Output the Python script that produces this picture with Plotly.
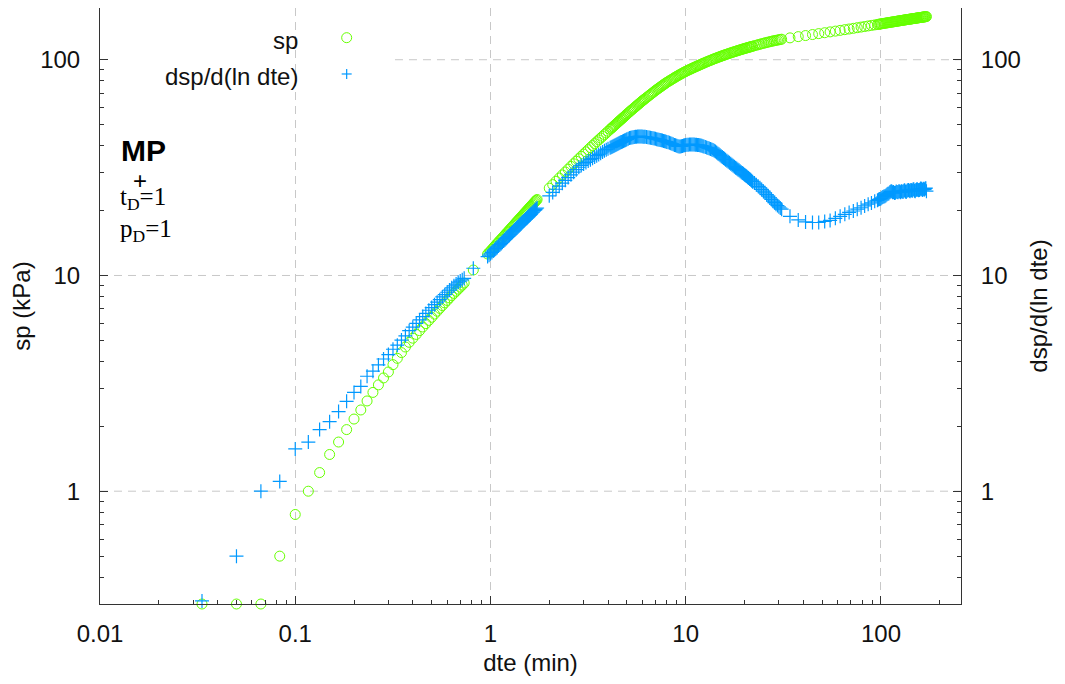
import math
import plotly.graph_objects as go

# ---------------- data ----------------
dte_a = [0.0333, 0.05, 0.0667, 0.0833, 0.1, 0.1167, 0.1333, 0.15, 0.1667, 0.1833,
         0.2, 0.2167, 0.2333, 0.25, 0.2667, 0.2833, 0.3, 0.3167, 0.3333, 0.35,
         0.3667, 0.3833, 0.4, 0.4167, 0.4333, 0.45, 0.4667, 0.4833, 0.5, 0.5167,
         0.5333, 0.55, 0.5667, 0.5833, 0.6, 0.6167, 0.6333, 0.65, 0.6667, 0.6833,
         0.7, 0.7167, 0.7333, 0.8167]
sp_a = [0.3, 0.3, 0.3, 0.5, 0.78, 1.0, 1.22, 1.48, 1.69, 1.93,
        2.16, 2.38, 2.62, 2.87, 3.11, 3.35, 3.57, 3.86, 4.13, 4.39,
        4.66, 4.9, 5.12, 5.33, 5.55, 5.77, 5.98, 6.19, 6.4, 6.62,
        6.83, 7.04, 7.25, 7.46, 7.66, 7.87, 8.07, 8.26, 8.45, 8.64,
        8.83, 9.02, 9.22, 10.6]
dsp_a = [0.31, 0.5, 1.0, 1.11, 1.57, 1.69, 1.93, 2.10, 2.34, 2.61,
         2.87, 3.06, 3.41, 3.6, 3.85, 4.1, 4.3, 4.55, 4.75, 5.02,
         5.25, 5.55, 5.76, 6.0, 6.22, 6.45, 6.67, 6.9, 7.1, 7.32,
         7.52, 7.72, 7.95, 8.15, 8.36, 8.56, 8.76, 8.95, 9.12, 9.3,
         9.42, 9.55, 9.7, 10.8]

dte_b1 = [0.9667, 0.9833, 1.0, 1.0167, 1.0333, 1.05, 1.0667, 1.0833, 1.1, 1.1167,
          1.1333, 1.15, 1.1667, 1.1833, 1.2, 1.2167, 1.2333, 1.25, 1.2667, 1.2833,
          1.3, 1.3167, 1.3333, 1.35, 1.3667, 1.3833, 1.4, 1.4167, 1.4333, 1.45,
          1.4667, 1.4833, 1.5, 1.5167, 1.5333, 1.55, 1.5667, 1.5833, 1.6, 1.6167,
          1.6333, 1.65, 1.6667, 1.6833, 1.7, 1.7167, 1.7333]
sp_b1 = [12.57, 12.77, 12.97, 13.2, 13.43, 13.65, 13.87, 14.09, 14.3, 14.52,
         14.73, 14.95, 15.17, 15.39, 15.6, 15.82, 16.03, 16.25, 16.47, 16.69,
         16.9, 17.12, 17.33, 17.55, 17.77, 17.99, 18.2, 18.42, 18.63, 18.85,
         19.07, 19.29, 19.5, 19.72, 19.93, 20.15, 20.37, 20.59, 20.8, 21.02,
         21.23, 21.45, 21.67, 21.89, 22.1, 22.3, 22.5]
dsp_b1 = [12.23, 12.42, 12.6, 12.79, 12.97, 13.16, 13.34, 13.53, 13.72, 13.9,
          14.08, 14.27, 14.45, 14.64, 14.82, 15.0, 15.18, 15.37, 15.55, 15.73,
          15.91, 16.1, 16.28, 16.46, 16.64, 16.82, 17.0, 17.18, 17.36, 17.54,
          17.72, 17.9, 18.08, 18.26, 18.43, 18.61, 18.79, 18.97, 19.14, 19.32,
          19.5, 19.68, 19.85, 20.03, 20.2, 20.38, 20.55]

dte_b2 = [2.0, 2.0833, 2.1667, 2.25, 2.3333, 2.4167, 2.5, 2.5833, 2.6667, 2.75,
          2.8333, 2.9167, 3.0, 3.0833, 3.1667, 3.25, 3.3333, 3.4167, 3.5, 3.5833,
          3.6667, 3.75, 3.8333, 3.9167, 4.0]
sp_b2 = [25.4, 26.37, 27.34, 28.29, 29.24, 30.17, 31.1, 32.03, 32.94, 33.85,
         34.75, 35.64, 36.53, 37.41, 38.28, 39.14, 39.99, 40.84, 41.68, 42.51,
         43.33, 44.15, 44.96, 45.77, 46.6]
dsp_b2 = [23.4, 24.25, 25.1, 25.94, 26.78, 27.61, 28.44, 29.27, 30.1, 30.92,
          31.74, 32.36, 32.89, 33.4, 33.91, 34.42, 34.92, 35.41, 35.9, 36.39,
          36.87, 37.35, 37.82, 38.29, 38.65]

dte_c = [4.1, 4.15, 4.2, 4.25, 4.3, 4.35, 4.4, 4.45, 4.5, 4.55,
         4.6, 4.65, 4.7, 4.75, 4.8, 4.85, 4.9, 4.95, 5.0, 5.075,
         5.15, 5.225, 5.3, 5.375, 5.45, 5.525, 5.6, 5.675, 5.75, 5.825,
         5.9, 5.975, 6.05, 6.125, 6.2, 6.3, 6.4, 6.5, 6.6, 6.7,
         6.8, 6.9, 7.0, 7.1, 7.2, 7.3, 7.4, 7.5, 7.6, 7.7,
         7.8, 7.9, 8.0, 8.125, 8.25, 8.375, 8.5, 8.625, 8.75, 8.875,
         9.0, 9.125, 9.25, 9.375, 9.5, 9.625, 9.75, 9.875, 10.0, 10.15,
         10.3, 10.45, 10.6, 10.75, 10.9, 11.05, 11.2, 11.35, 11.5, 11.65,
         11.8, 11.95, 12.1, 12.25, 12.4, 12.6, 12.8, 13.0, 13.2, 13.4,
         13.6, 13.8, 14.0, 14.2, 14.4, 14.6, 14.8, 15.0, 15.2, 15.4,
         15.6, 15.8, 16.0, 16.25, 16.5, 16.75, 17.0, 17.25, 17.5, 17.75,
         18.0, 18.25, 18.5, 18.75, 19.0, 19.25, 19.5, 19.75, 20.0, 20.25,
         20.5, 20.75, 21.0, 21.25, 21.5, 21.75, 22.0]
sp_c = [47.55, 48.03, 48.5, 48.98, 49.45, 49.93, 50.4, 50.87, 51.33, 51.8,
        52.26, 52.73, 53.19, 53.65, 54.1, 54.55, 55.0, 55.5, 56.0, 56.65,
        57.3, 57.95, 58.59, 59.23, 59.87, 60.51, 61.14, 61.77, 62.4, 63.04,
        63.67, 64.28, 64.88, 65.45, 66.02, 66.77, 67.52, 68.27, 69.02, 69.76,
        70.5, 71.25, 72.0, 72.67, 73.33, 73.99, 74.65, 75.31, 75.96, 76.6,
        77.24, 77.87, 78.5, 79.17, 79.84, 80.5, 81.16, 81.82, 82.47, 83.14,
        83.8, 84.38, 84.96, 85.53, 86.1, 86.66, 87.22, 87.76, 88.3, 88.87,
        89.43, 89.99, 90.54, 91.09, 91.63, 92.15, 92.66, 93.16, 93.65, 94.14,
        94.62, 95.11, 95.6, 96.07, 96.53, 97.13, 97.73, 98.29, 98.85, 99.39,
        99.93, 100.47, 101.0, 101.49, 101.97, 102.45, 102.93, 103.4, 103.86, 104.3,
        104.74, 105.17, 105.6, 106.11, 106.61, 107.11, 107.6, 108.06, 108.51, 108.96,
        109.4, 109.83, 110.26, 110.68, 111.1, 111.51, 111.91, 112.31, 112.7, 113.06,
        113.41, 113.77, 114.12, 114.47, 114.82, 115.16, 115.5]
dsp_c = [39.09, 39.31, 39.52, 39.74, 39.95, 40.16, 40.37, 40.58, 40.78, 40.99,
         41.19, 41.4, 41.6, 41.8, 41.99, 42.19, 42.39, 42.59, 42.78, 43.07,
         43.36, 43.48, 43.6, 43.7, 43.8, 43.9, 44.0, 44.05, 44.1, 44.1,
         44.1, 44.05, 44.0, 43.95, 43.9, 43.8, 43.7, 43.6, 43.5, 43.35,
         43.2, 43.1, 43.0, 42.85, 42.7, 42.6, 42.5, 42.35, 42.2, 42.05,
         41.9, 41.75, 41.6, 41.4, 41.2, 41.0, 40.8, 40.55, 40.3, 40.1,
         39.9, 39.75, 39.6, 39.65, 39.7, 39.85, 40.0, 40.15, 40.3, 40.35,
         40.4, 40.45, 40.5, 40.5, 40.5, 40.45, 40.4, 40.35, 40.3, 40.2,
         40.1, 40.0, 39.9, 39.75, 39.6, 39.4, 39.2, 39.0, 38.8, 38.6,
         38.4, 38.15, 37.9, 37.52, 37.13, 36.78, 36.42, 36.06, 35.7, 35.37,
         35.04, 34.72, 34.4, 34.02, 33.63, 33.28, 32.92, 32.59, 32.25, 31.93,
         31.6, 31.3, 31.0, 30.71, 30.41, 30.13, 29.85, 29.59, 29.32, 29.06,
         28.8, 28.55, 28.3, 28.03, 27.75, 27.48, 27.2]

dte_d1 = [22.5, 23.0, 23.5, 24.0, 24.5, 25.0, 25.5, 26.0, 26.5, 27.0,
          27.5, 28.0, 28.5, 29.0, 29.5, 30.0, 30.5, 31.0]
sp_d1 = [116.14, 116.77, 117.39, 118.0, 118.6, 119.2, 119.72, 120.23, 120.74, 121.23,
         121.73, 122.2, 122.59, 122.97, 123.35, 123.73, 124.1, 124.5]
dsp_d1 = [26.8, 26.3, 25.9, 25.5, 25.05, 24.6, 24.15, 23.7, 23.3, 22.9,
          22.5, 22.1, 21.75, 21.4, 21.1, 20.8, 20.55, 20.3]

dte_d2 = [34.2, 37.7, 41.1, 44.6, 48.0, 51.5, 54.9, 58.4, 61.8, 65.3,
          68.7, 72.2, 75.6, 79.1, 82.5, 86.0, 89.4, 92.9]
sp_d2 = [126.3, 127.97, 129.45, 130.84, 132.15, 133.41, 134.6, 135.72, 136.8, 137.85,
         138.8, 139.83, 140.77, 141.69, 142.55, 143.41, 144.23, 145.03]
dsp_d2 = [18.8, 18.1, 17.7, 17.6, 17.6, 17.8, 18.0, 18.4, 18.8, 19.2,
          19.6, 19.9, 20.3, 20.6, 21.0, 21.4, 21.7, 22.1]

dte_e = [96, 97.25, 98.5, 99.75, 101, 102.25, 103.5, 104.75, 106, 107.25,
         108.5, 109.75, 111, 112.25, 113.5, 114.75, 116, 117.25, 118.5, 119.75,
         121, 122.25, 123.5, 124.75, 126, 127.25, 128.5, 129.75, 131, 132.25,
         133.5, 134.75, 136, 137.25, 138.5, 139.75, 141, 142.25, 143.5, 144.75,
         146, 147.25, 148.5, 149.75, 151, 152.25, 153.5, 154.75, 156, 157.25,
         158.5, 159.75, 161, 162.25, 163.5, 164.75, 166, 167.25, 168.5, 169.75, 171]
sp_e = [145.73, 146.01, 146.29, 146.57, 146.84, 147.12, 147.39, 147.65, 147.91, 148.17,
        148.43, 148.69, 148.94, 149.19, 149.44, 149.69, 149.93, 150.17, 150.41, 150.64,
        150.87, 151.1, 151.34, 151.57, 151.8, 152.02, 152.24, 152.45, 152.67, 152.88,
        153.08, 153.28, 153.48, 153.68, 153.88, 154.07, 154.26, 154.45, 154.65, 154.84,
        155.02, 155.2, 155.39, 155.58, 155.77, 155.95, 156.13, 156.31, 156.49, 156.67,
        156.84, 157.02, 157.2, 157.37, 157.53, 157.7, 157.87, 158.03, 158.2, 158.35, 158.5]
dsp_e = [22.3, 22.5, 22.6, 22.7, 22.9, 23.1, 23.2, 23.3, 23.5, 23.7,
         23.9, 24.0, 24.3, 24.5, 24.6, 24.3, 24.4, 24.1, 24.2, 24.5,
         24.4, 24.3, 24.6, 24.5, 24.3, 24.6, 24.5, 24.4, 24.7, 24.8,
         24.5, 24.4, 24.7, 24.8, 24.9, 24.7, 24.6, 24.9, 24.8, 24.7,
         25.0, 25.1, 24.7, 24.6, 24.9, 25.0, 25.1, 24.9, 24.8, 24.9,
         25.0, 25.3, 25.2, 25.0, 24.9, 25.2, 25.1, 25.0, 25.3, 25.4, 24.6]

x_ticks = [0.01, 0.1, 1, 10, 100]
x_ticktext = ["0.01", "0.1", "1", "10", "100"]
y_ticks = [1, 10, 100]
y_ticktext = ["1", "10", "100"]

segments = [(dte_a, sp_a, dsp_a), (dte_b1, sp_b1, dsp_b1), (dte_b2, sp_b2, dsp_b2),
            (dte_c, sp_c, dsp_c), (dte_d1, sp_d1, dsp_d1), (dte_d2, sp_d2, dsp_d2),
            (dte_e, sp_e, dsp_e)]
for sx, sy1, sy2 in segments:
    assert len(sx) == len(sy1) == len(sy2), (len(sx), len(sy1), len(sy2))
dte = [v for s in segments for v in s[0]]
sp = [v for s in segments for v in s[1]]
dsp = [v for s in segments for v in s[2]]

# ---------------- styling ----------------
GREEN = "#66ff00"
BLUE = "#0099ff"
GRID = "#c8c8c8"
FONT = "Liberation Sans, Arial, sans-serif"
SERIF = "Liberation Serif, Times New Roman, serif"
FS = 24

X_RANGE = [-2.0, 2.41]
Y_RANGE = [math.log10(0.3), math.log10(173.7)]

x_minor = [m * d for d in [0.01, 0.1, 1, 10, 100] for m in range(2, 10) if m * d < 257]
y_minor = [m * d for d in [0.1, 1, 10, 100] for m in range(2, 10) if 0.3 <= m * d < 173]

fig = go.Figure()
fig.add_trace(go.Scatter(
    x=dte, y=sp, mode="markers", name="sp", showlegend=False, cliponaxis=False,
    marker=dict(symbol="circle-open", size=10, color=GREEN, line=dict(width=1, color=GREEN)),
))
fig.add_trace(go.Scatter(
    x=dte, y=dsp, mode="markers", name="dsp/d(ln dte)", yaxis="y2", showlegend=False,
    cliponaxis=False,
    marker=dict(symbol="cross-thin-open", size=10, color=BLUE, line=dict(width=1.2, color=BLUE)),
))

common_y = dict(
    type="log", range=Y_RANGE, tickmode="array", tickvals=y_ticks, ticktext=y_ticktext,
    ticks="inside", ticklen=8, tickcolor="#333", showline=True, linecolor="#333",
    linewidth=1, showgrid=False, zeroline=False,
    tickfont=dict(family=FONT, size=FS, color="#111"),
    minor=dict(tickmode="array", tickvals=y_minor, ticks="inside", ticklen=4,
               tickcolor="#333", showgrid=False),
    ticklabelstandoff=14,
)

# page body has an 8 px margin, so the figure is 8 px smaller and shifted
fig.update_layout(
    width=1057, height=676,
    margin=dict(l=92, r=104, t=0, b=80, autoexpand=False),
    plot_bgcolor="white", paper_bgcolor="white",
    font=dict(family=FONT, size=FS, color="#111"),
    xaxis=dict(
        type="log", range=X_RANGE, tickmode="array", tickvals=x_ticks, ticktext=x_ticktext,
        ticks="inside", ticklen=8, tickcolor="#333", showline=True, linecolor="#333",
        linewidth=1, mirror=True, showgrid=True, gridcolor=GRID, griddash="8px,6px",
        gridwidth=1, zeroline=False,
        tickfont=dict(family=FONT, size=FS, color="#111"),
        minor=dict(tickmode="array", tickvals=x_minor, ticks="inside", ticklen=4,
                   tickcolor="#333", showgrid=False),
        ticklabelstandoff=8,
        title=dict(text="dte (min)", font=dict(family=FONT, size=FS), standoff=8),
    ),
    yaxis=dict(**common_y, side="left",
               title=dict(text="sp (kPa)", font=dict(family=FONT, size=FS), standoff=4)),
    yaxis2=dict(**common_y, side="right", overlaying="y",
                title=dict(text="dsp/d(ln dte)", font=dict(family=FONT, size=FS), standoff=10)),
)

shapes = []
for yv, x0 in [(1, 0.0), (10, 0.0), (100, 0.3426)]:
    shapes.append(dict(type="line", xref="paper", yref="y", x0=x0, x1=1, y0=yv, y1=yv,
                       layer="below", line=dict(color=GRID, width=1, dash="8px,6px")))
kx = 0.2865
shapes.append(dict(type="circle", xref="paper", yref="paper", xsizemode="pixel",
                   ysizemode="pixel", xanchor=kx, yanchor=0.9502, x0=-5, x1=5, y0=-5, y1=5,
                   line=dict(color=GREEN, width=1)))
shapes.append(dict(type="line", xref="paper", yref="paper", xsizemode="pixel",
                   ysizemode="pixel", xanchor=kx, yanchor=0.8893, x0=-5, x1=5, y0=0, y1=0,
                   line=dict(color=BLUE, width=1.2)))
shapes.append(dict(type="line", xref="paper", yref="paper", xsizemode="pixel",
                   ysizemode="pixel", xanchor=kx, yanchor=0.8893, x0=0, x1=0, y0=-5, y1=5,
                   line=dict(color=BLUE, width=1.2)))
fig.update_layout(shapes=shapes)

ann = [
    dict(text="sp", x=0.2323, y=0.9463, xanchor="right", yanchor="middle"),
    dict(text="dsp/d(ln dte)", x=0.2323, y=0.8859, xanchor="right", yanchor="middle"),
    dict(text="<b>MP</b>", x=0.0225, y=0.7617, xanchor="left", yanchor="middle",
         font=dict(family=FONT, size=30, color="#000")),
    dict(text="+", x=0.0465, y=0.7114, xanchor="center", yanchor="middle",
         font=dict(family=FONT, size=24, color="#000")),
    dict(text="t<sub>D</sub>=1", x=0.021, y=0.680, xanchor="left", yanchor="middle",
         font=dict(family=SERIF, size=25, color="#000")),
    dict(text="p<sub>D</sub>=1", x=0.021, y=0.626, xanchor="left", yanchor="middle",
         font=dict(family=SERIF, size=25, color="#000")),
]
for a in ann:
    a.setdefault("font", dict(family=FONT, size=FS, color="#111"))
    a.update(xref="paper", yref="paper", showarrow=False)
fig.update_layout(annotations=ann)

fig.write_html("out.html")
